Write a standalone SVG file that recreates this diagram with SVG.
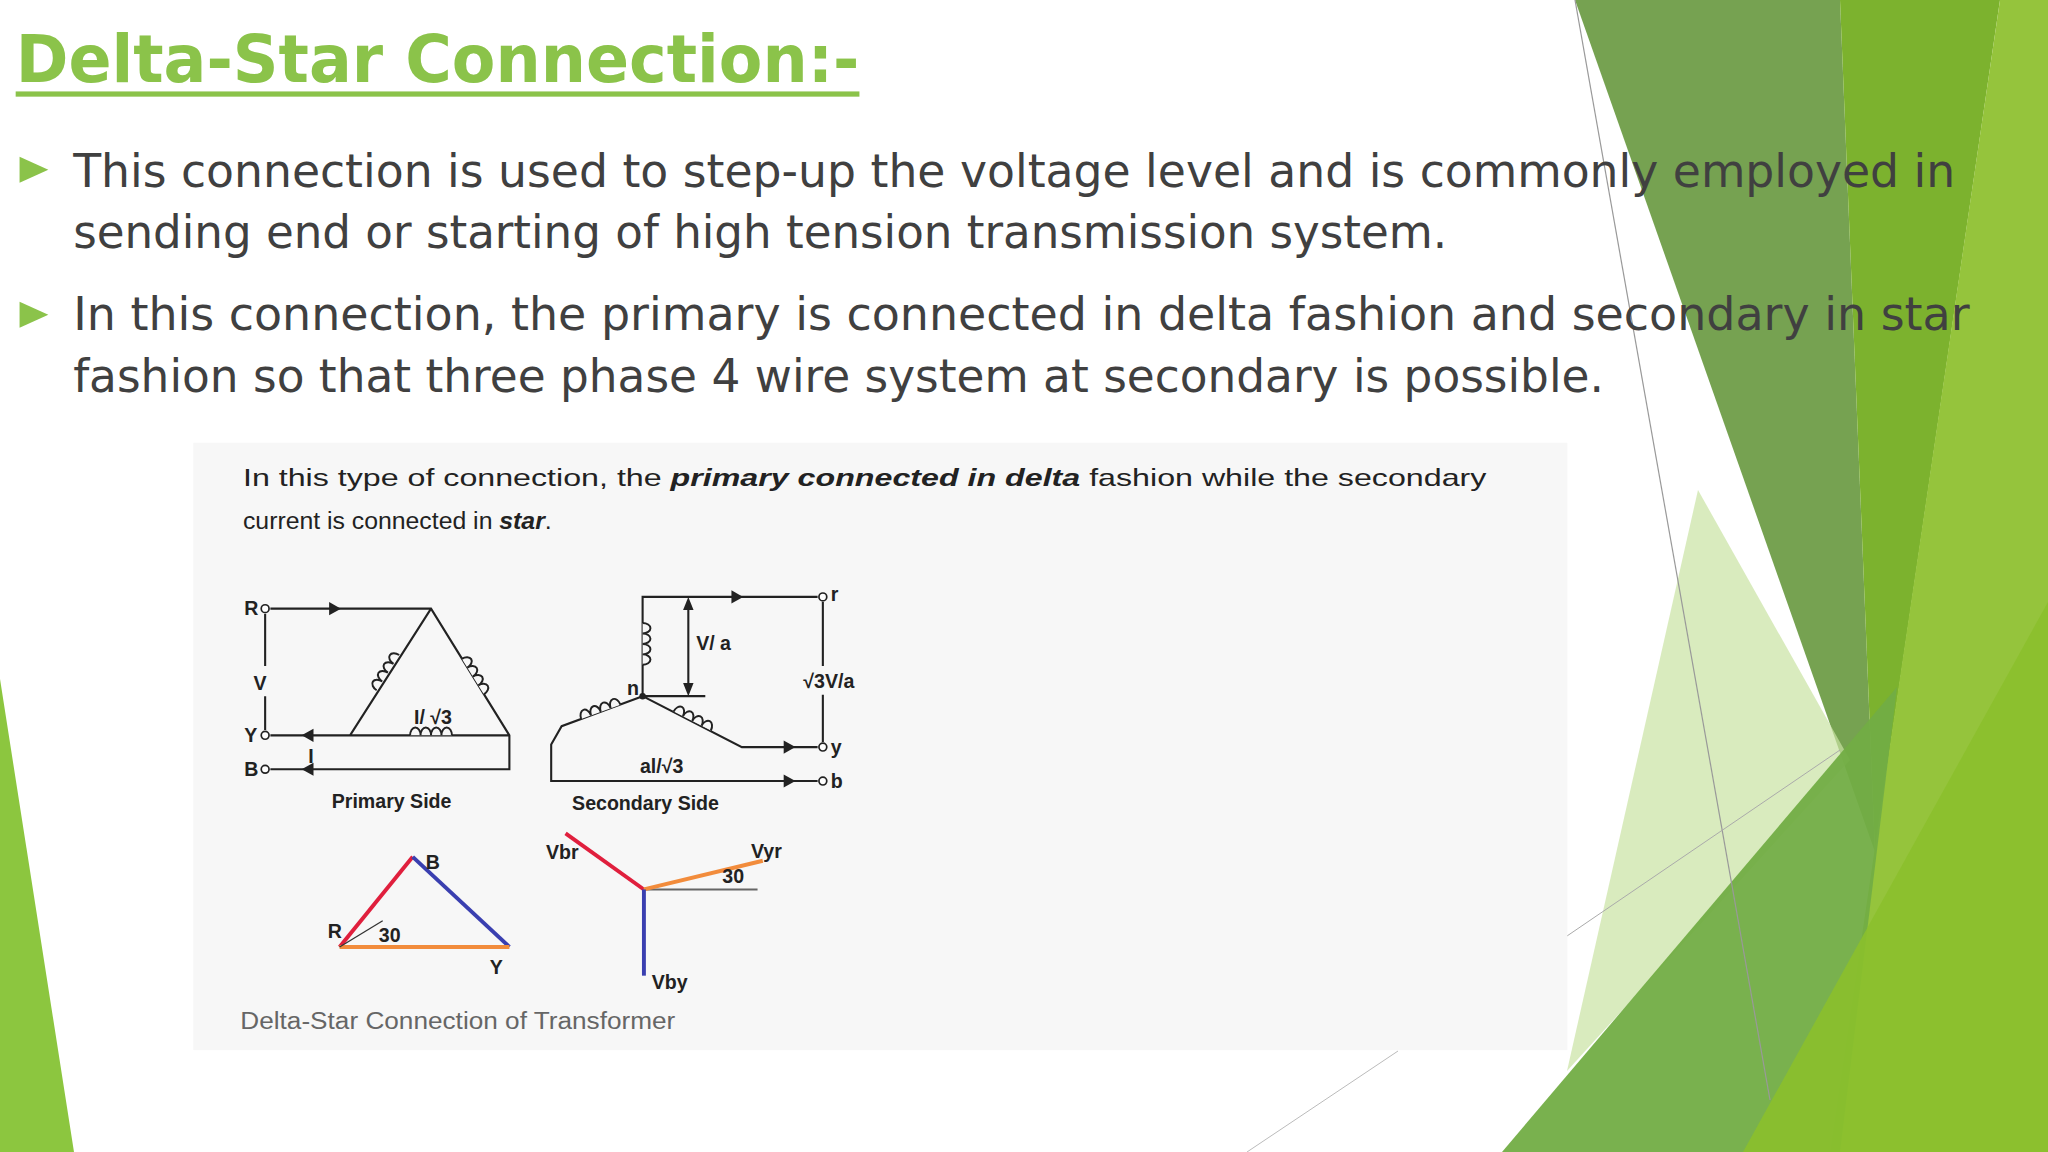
<svg xmlns="http://www.w3.org/2000/svg" width="2048" height="1152" viewBox="0 0 2048 1152">
<defs>
<style>
.b{font-family:"DejaVu Sans",Verdana,sans-serif;fill:#404040;font-size:36px}
.c{font-family:"Liberation Sans",Arial,sans-serif;fill:#222;font-size:19px}
.d{font-family:"Liberation Sans",Arial,sans-serif;fill:#222;font-size:15px;font-weight:bold}
.w{stroke:#222;stroke-width:1.6;fill:none}
.dot{fill:#fff;stroke:#222;stroke-width:1.3}
</style>
<path id="coil" d="M-16,0 a4,6 0 1,1 8,0 a4,6 0 1,1 8,0 a4,6 0 1,1 8,0 a4,6 0 1,1 8,0" fill="#f7f7f7" stroke="#222" stroke-width="1.5"/>
<polygon id="tri" points="0,-5 9,0 0,5" fill="#222"/>
</defs>
<rect width="2048" height="1152" fill="#fff"/>
<g id="background">
<polygon points="0,679 74,1152 0,1152" fill="#8cc63f"/>
<polygon points="1575,0 1840,0 1875,852" fill="#5e9232" opacity="0.85"/>
<polygon points="1840,0 2000,0 1863,933 1875,852" fill="#7cb22e"/>
<polygon points="2000,0 2048,0 2048,1152 1830,1152" fill="#95c43c"/>
<polygon points="1698,490 1850,760 1567,1071" fill="#c9e2a2" opacity="0.7"/>
<polygon points="1502,1152 1897,687 1840,1152" fill="#72ad45" opacity="0.95"/>
<polygon points="1743,1152 2048,602 2048,1152" fill="#8bc02c" opacity="0.9"/>
<line x1="1575" y1="0" x2="1770" y2="1100" stroke="#999" stroke-width="1.2"/>
<line x1="1567" y1="936" x2="1840" y2="750" stroke="#aaa" stroke-width="1"/>
<line x1="1247" y1="1152" x2="1398" y2="1051" stroke="#bbb" stroke-width="1"/>
</g>
<g transform="scale(1.30612)">
<g id="title">
<text x="12" y="63" font-family="DejaVu Sans,Verdana,sans-serif" font-weight="bold" font-size="50" fill="#8bc34a" textLength="646" lengthAdjust="spacingAndGlyphs">Delta-Star Connection:-</text>
<rect x="12" y="70" width="646" height="4" fill="#8bc34a"/>
</g>
<g id="bullets">
<polygon points="15,120 37,130 15,140" fill="#8bc34a"/>
<polygon points="15,231 37,241 15,251" fill="#8bc34a"/>
<text class="b" x="56" y="143" textLength="1441" lengthAdjust="spacingAndGlyphs">This connection is used to step-up the voltage level and is commonly employed in</text>
<text class="b" x="56" y="190" textLength="1052" lengthAdjust="spacingAndGlyphs">sending end or starting of high tension transmission system.</text>
<text class="b" x="56" y="253" textLength="1452" lengthAdjust="spacingAndGlyphs">In this connection, the primary is connected in delta fashion and secondary in star</text>
<text class="b" x="56" y="300" textLength="1172" lengthAdjust="spacingAndGlyphs">fashion so that three phase 4 wire system at secondary is possible.</text>
</g>
<rect x="148" y="339" width="1052" height="465" fill="#f7f7f7"/>
<g id="caption">
<text class="c" x="186" y="372" textLength="952" lengthAdjust="spacingAndGlyphs">In this type of connection, the <tspan font-weight="bold" font-style="italic">primary connected in delta</tspan> fashion while the secondary</text>
<text class="c" x="186" y="405">current is connected in <tspan font-weight="bold" font-style="italic">star</tspan>.</text>
<text x="184" y="788" font-family="Liberation Sans,Arial,sans-serif" font-size="18" fill="#666" textLength="333" lengthAdjust="spacingAndGlyphs">Delta-Star Connection of Transformer</text>
</g>
<g id="primary">
<path class="w" d="M207,466 H330 L390,563 V589 H207 M207,563 H390 M330,466 L268,563 M203,470 V510 M203,533 V559"/>
<use href="#tri" transform="translate(252,466)"/>
<use href="#tri" transform="translate(240,563) rotate(180)"/>
<use href="#tri" transform="translate(240,589) rotate(180)"/>
<use href="#coil" transform="translate(297,515) rotate(-57.4)"/>
<use href="#coil" transform="translate(362,518) rotate(58.2)"/>
<use href="#coil" transform="translate(330,563)"/>
<circle class="dot" cx="203" cy="466" r="3"/><circle class="dot" cx="203" cy="563" r="3"/><circle class="dot" cx="203" cy="589" r="3"/>
<text class="d" x="187" y="471">R</text><text class="d" x="187" y="568">Y</text><text class="d" x="187" y="594">B</text>
<text class="d" x="194" y="528" font-size="17">V</text>
<text class="d" x="236" y="584">I</text>
<text class="d" x="317" y="554">I/ √3</text>
<text class="d" x="254" y="619">Primary Side</text>
</g>
<g id="secondary">
<path class="w" d="M626,457 H492 V533 M492,533 L430,556 L422,570 V598 H626 M492,533 L568,572 H626 M630,461 V510 M630,532 V568 M492,533 H540 M527,462 V528"/>
<polygon points="527,457 523,467 531,467" fill="#222"/><polygon points="527,533 523,523 531,523" fill="#222"/>
<use href="#tri" transform="translate(560,457)"/>
<use href="#tri" transform="translate(600,572)"/>
<use href="#tri" transform="translate(600,598)"/>
<use href="#coil" transform="translate(492,493) rotate(90)"/>
<use href="#coil" transform="translate(460,545) rotate(-20)"/>
<use href="#coil" transform="translate(530,552) rotate(27)"/>
<circle cx="492" cy="533" r="2.5" fill="#222"/>
<circle class="dot" cx="630" cy="457" r="3"/><circle class="dot" cx="630" cy="572" r="3"/><circle class="dot" cx="630" cy="598" r="3"/>
<text class="d" x="636" y="460" font-size="11" font-weight="normal">r</text>
<text class="d" x="636" y="577" font-size="12" font-weight="normal">y</text>
<text class="d" x="636" y="603" font-size="12" font-weight="normal">b</text>
<text class="d" x="480" y="532" font-size="12" font-weight="normal">n</text>
<text class="d" x="533" y="498">V/ a</text>
<text class="d" x="615" y="527">√3V/a</text>
<text class="d" x="490" y="592">al/√3</text>
<text class="d" x="438" y="620">Secondary Side</text>
</g>
<g id="phasors">
<line x1="260" y1="725" x2="316" y2="656" stroke="#e01f3d" stroke-width="3"/>
<line x1="316" y1="656" x2="390" y2="725" stroke="#3a3fb0" stroke-width="3"/>
<line x1="260" y1="725" x2="390" y2="725" stroke="#f28c3c" stroke-width="3"/>
<line x1="260" y1="725" x2="293" y2="705" stroke="#333" stroke-width="1"/>
<text class="d" x="251" y="718" font-size="13">R</text><text class="d" x="326" y="665" font-size="13">B</text>
<text class="d" x="375" y="746" font-size="13">Y</text><text class="d" x="290" y="721" font-size="13">30</text>
<line x1="493" y1="681" x2="580" y2="681" stroke="#666" stroke-width="1.5"/>
<line x1="493" y1="681" x2="433" y2="638" stroke="#e01f3d" stroke-width="3"/>
<line x1="493" y1="681" x2="584" y2="659" stroke="#f28c3c" stroke-width="3"/>
<line x1="493" y1="681" x2="493" y2="747" stroke="#3a3fb0" stroke-width="3"/>
<text class="d" x="418" y="658" font-size="13">Vbr</text><text class="d" x="575" y="657" font-size="13">Vyr</text>
<text class="d" x="553" y="676" font-size="13">30</text><text class="d" x="499" y="757" font-size="13">Vby</text>
</g>
</g>
</svg>
